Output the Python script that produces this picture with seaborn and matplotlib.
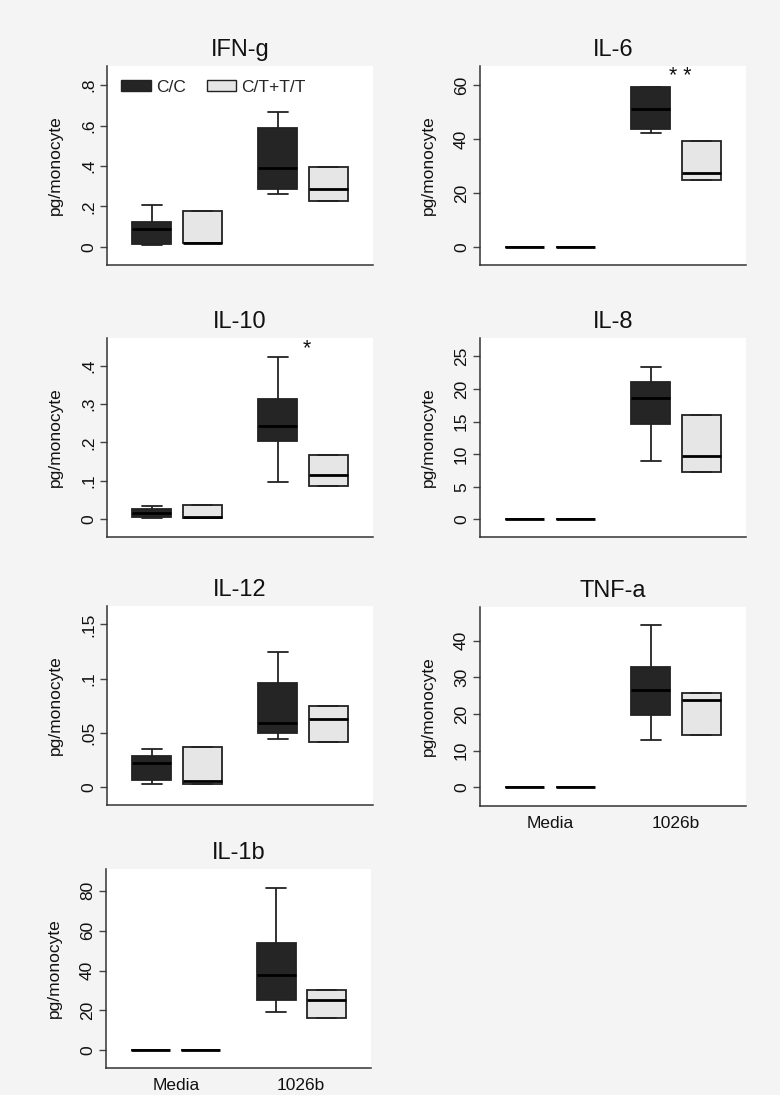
import numpy as np
import pandas as pd
import matplotlib
matplotlib.use("Agg")
import matplotlib.pyplot as plt
from matplotlib.patches import Patch
import seaborn as sns

# ---------------- data ----------------
stimuli = ["Media", "1026b"]
genotypes = ["C/C", "C/T+T/T"]
panel_names = ["IFN-g", "IL-6", "IL-10", "IL-8", "IL-12", "TNF-a", "IL-1b"]

# five values per box: min, q1, median, q3, max
IFNG_MEDIA_CC = [0.010, 0.013, 0.089, 0.125, 0.205]
IFNG_MEDIA_CT = [0.018, 0.018, 0.019, 0.176, 0.176]
IFNG_1026B_CC = [0.260, 0.286, 0.388, 0.586, 0.667]
IFNG_1026B_CT = [0.228, 0.228, 0.287, 0.394, 0.394]

IL6_MEDIA_CC = [0.0, 0.0, 0.0, 0.0, 0.0]
IL6_MEDIA_CT = [0.0, 0.0, 0.0, 0.0, 0.0]
IL6_1026B_CC = [42.3, 43.7, 51.4, 59.3, 59.6]
IL6_1026B_CT = [25.1, 25.1, 27.7, 39.3, 39.3]

IL10_MEDIA_CC = [0.003, 0.005, 0.017, 0.027, 0.034]
IL10_MEDIA_CT = [0.004, 0.004, 0.006, 0.038, 0.038]
IL10_1026B_CC = [0.096, 0.205, 0.243, 0.312, 0.4235]
IL10_1026B_CT = [0.086, 0.086, 0.115, 0.168, 0.168]

IL8_MEDIA_CC = [0.1, 0.1, 0.1, 0.1, 0.1]
IL8_MEDIA_CT = [0.1, 0.1, 0.1, 0.1, 0.1]
IL8_1026B_CC = [8.9, 14.6, 18.6, 21.1, 23.3]
IL8_1026B_CT = [7.3, 7.3, 9.65, 16.0, 16.0]

IL12_MEDIA_CC = [0.0025, 0.0068, 0.0219, 0.0283, 0.0354]
IL12_MEDIA_CT = [0.0028, 0.0028, 0.0055, 0.0373, 0.0373]
IL12_1026B_CC = [0.0444, 0.0496, 0.0591, 0.0964, 0.125]
IL12_1026B_CT = [0.0413, 0.0413, 0.0628, 0.0752, 0.0752]

TNFA_MEDIA_CC = [0.1, 0.1, 0.1, 0.1, 0.1]
TNFA_MEDIA_CT = [0.1, 0.1, 0.1, 0.1, 0.1]
TNFA_1026B_CC = [13.0, 19.8, 26.5, 32.9, 44.3]
TNFA_1026B_CT = [14.3, 14.3, 23.7, 25.8, 25.8]

IL1B_MEDIA_CC = [0.0, 0.0, 0.0, 0.0, 0.0]
IL1B_MEDIA_CT = [0.0, 0.0, 0.0, 0.0, 0.0]
IL1B_1026B_CC = [19.4, 25.05, 37.6, 53.8, 81.3]
IL1B_1026B_CT = [16.2, 16.2, 25.05, 30.2, 30.2]

panel_data = {
    "IFN-g": (IFNG_MEDIA_CC, IFNG_MEDIA_CT, IFNG_1026B_CC, IFNG_1026B_CT),
    "IL-6": (IL6_MEDIA_CC, IL6_MEDIA_CT, IL6_1026B_CC, IL6_1026B_CT),
    "IL-10": (IL10_MEDIA_CC, IL10_MEDIA_CT, IL10_1026B_CC, IL10_1026B_CT),
    "IL-8": (IL8_MEDIA_CC, IL8_MEDIA_CT, IL8_1026B_CC, IL8_1026B_CT),
    "IL-12": (IL12_MEDIA_CC, IL12_MEDIA_CT, IL12_1026B_CC, IL12_1026B_CT),
    "TNF-a": (TNFA_MEDIA_CC, TNFA_MEDIA_CT, TNFA_1026B_CC, TNFA_1026B_CT),
    "IL-1b": (IL1B_MEDIA_CC, IL1B_MEDIA_CT, IL1B_1026B_CC, IL1B_1026B_CT),
}

yticks = {
    "IFN-g": [0, 0.2, 0.4, 0.6, 0.8],
    "IL-6": [0, 20, 40, 60],
    "IL-10": [0, 0.1, 0.2, 0.3, 0.4],
    "IL-8": [0, 5, 10, 15, 20, 25],
    "IL-12": [0, 0.05, 0.1, 0.15],
    "TNF-a": [0, 10, 20, 30, 40],
    "IL-1b": [0, 20, 40, 60, 80],
}
ytick_labels = {
    "IFN-g": ["0", ".2", ".4", ".6", ".8"],
    "IL-6": ["0", "20", "40", "60"],
    "IL-10": ["0", ".1", ".2", ".3", ".4"],
    "IL-8": ["0", "5", "10", "15", "20", "25"],
    "IL-12": ["0", ".05", ".1", ".15"],
    "TNF-a": ["0", "10", "20", "30", "40"],
    "IL-1b": ["0", "20", "40", "60", "80"],
}
ylims = {
    "IFN-g": (-0.089, 0.894),
    "IL-6": (-6.5, 67.2),
    "IL-10": (-0.046, 0.472),
    "IL-8": (-2.7, 27.8),
    "IL-12": (-0.0166, 0.167),
    "TNF-a": (-5.1, 49.2),
    "IL-1b": (-8.85, 90.9),
}
significance = {"IL-6": ("* *", 63.2), "IL-10": ("*", 0.445)}

# ---------------- style ----------------
sns.set_theme(style="white")
plt.rcParams["font.family"] = ["Liberation Sans", "DejaVu Sans"]
BG = "#f4f4f4"
DARK = "#252525"
LIGHT = "#e6e6e6"
EDGE = "#222222"
palette = {"C/C": DARK, "C/T+T/T": LIGHT}

W, H = 780, 1095
fig = plt.figure(figsize=(W / 100, H / 100), dpi=100, facecolor=BG)

# axes rectangles in pixels: left, top, width, height
layout = {
    "IFN-g": (107, 66, 266, 199),
    "IL-6": (480, 66, 266, 199),
    "IL-10": (107, 338, 266, 199),
    "IL-8": (480, 338, 266, 199),
    "IL-12": (107, 606, 266, 199),
    "TNF-a": (480, 607, 266, 199),
    "IL-1b": (106, 869, 265, 199),
}
bottom_panels = {"TNF-a", "IL-1b"}

for name in panel_names:
    l, t, w, h = layout[name]
    ax = fig.add_axes([l / W, 1 - (t + h) / H, w / W, h / H])
    ax.set_facecolor("white")

    rows = []
    vals = panel_data[name]
    combos = [("Media", "C/C"), ("Media", "C/T+T/T"),
              ("1026b", "C/C"), ("1026b", "C/T+T/T")]
    for (stim, gt), v in zip(combos, vals):
        for x in v:
            rows.append({"stim": stim, "genotype": gt, "value": x})
    df = pd.DataFrame(rows)

    sns.boxplot(data=df, x="stim", y="value", hue="genotype",
                order=stimuli, hue_order=genotypes, palette=palette,
                whis=(0, 100), width=0.8, gap=0.22, linecolor=EDGE,
                linewidth=1.3, fliersize=0, legend=False, ax=ax,
                medianprops={"color": "black", "linewidth": 2.0})

    ax.set_xlim(-0.556, 1.556)
    ax.set_ylim(*ylims[name])
    ax.set_yticks(yticks[name])
    ax.set_yticklabels(ytick_labels[name], rotation=90, va="center",
                       fontsize=12.5, color="#111111")
    ax.set_ylabel("pg/monocyte", fontsize=12.5, labelpad=13, color="#111111")
    ax.set_xlabel("")
    ax.set_title(name, fontsize=17, pad=7, color="#111111")

    ax.tick_params(axis="y", direction="out", length=5, width=1,
                   color="#444444", pad=3, left=True)
    if name in bottom_panels:
        ax.tick_params(axis="x", length=0, pad=7, labelsize=12.5,
                       labelcolor="#111111")
    else:
        ax.tick_params(axis="x", length=0, labelbottom=False)

    for side in ["top", "right"]:
        ax.spines[side].set_visible(False)
    for side in ["left", "bottom"]:
        ax.spines[side].set_color("#333333")
        ax.spines[side].set_linewidth(1.1)

    if name in significance:
        txt, yv = significance[name]
        ax.text(1.03, yv, txt, ha="center", va="center", fontsize=15.5,
                color="#111111")

    if name == "IFN-g":
        handles = [Patch(facecolor=palette[g], edgecolor=EDGE, linewidth=1.0,
                         label=g) for g in genotypes]
        ax.legend(handles=handles, ncol=2, frameon=False, loc="upper left",
                  bbox_to_anchor=(0.028, 0.965), fontsize=12.5,
                  handlelength=1.7, handleheight=0.6, handletextpad=0.3,
                  columnspacing=1.2, borderaxespad=0.0)

fig.savefig("out.png", dpi=100, facecolor=BG)
